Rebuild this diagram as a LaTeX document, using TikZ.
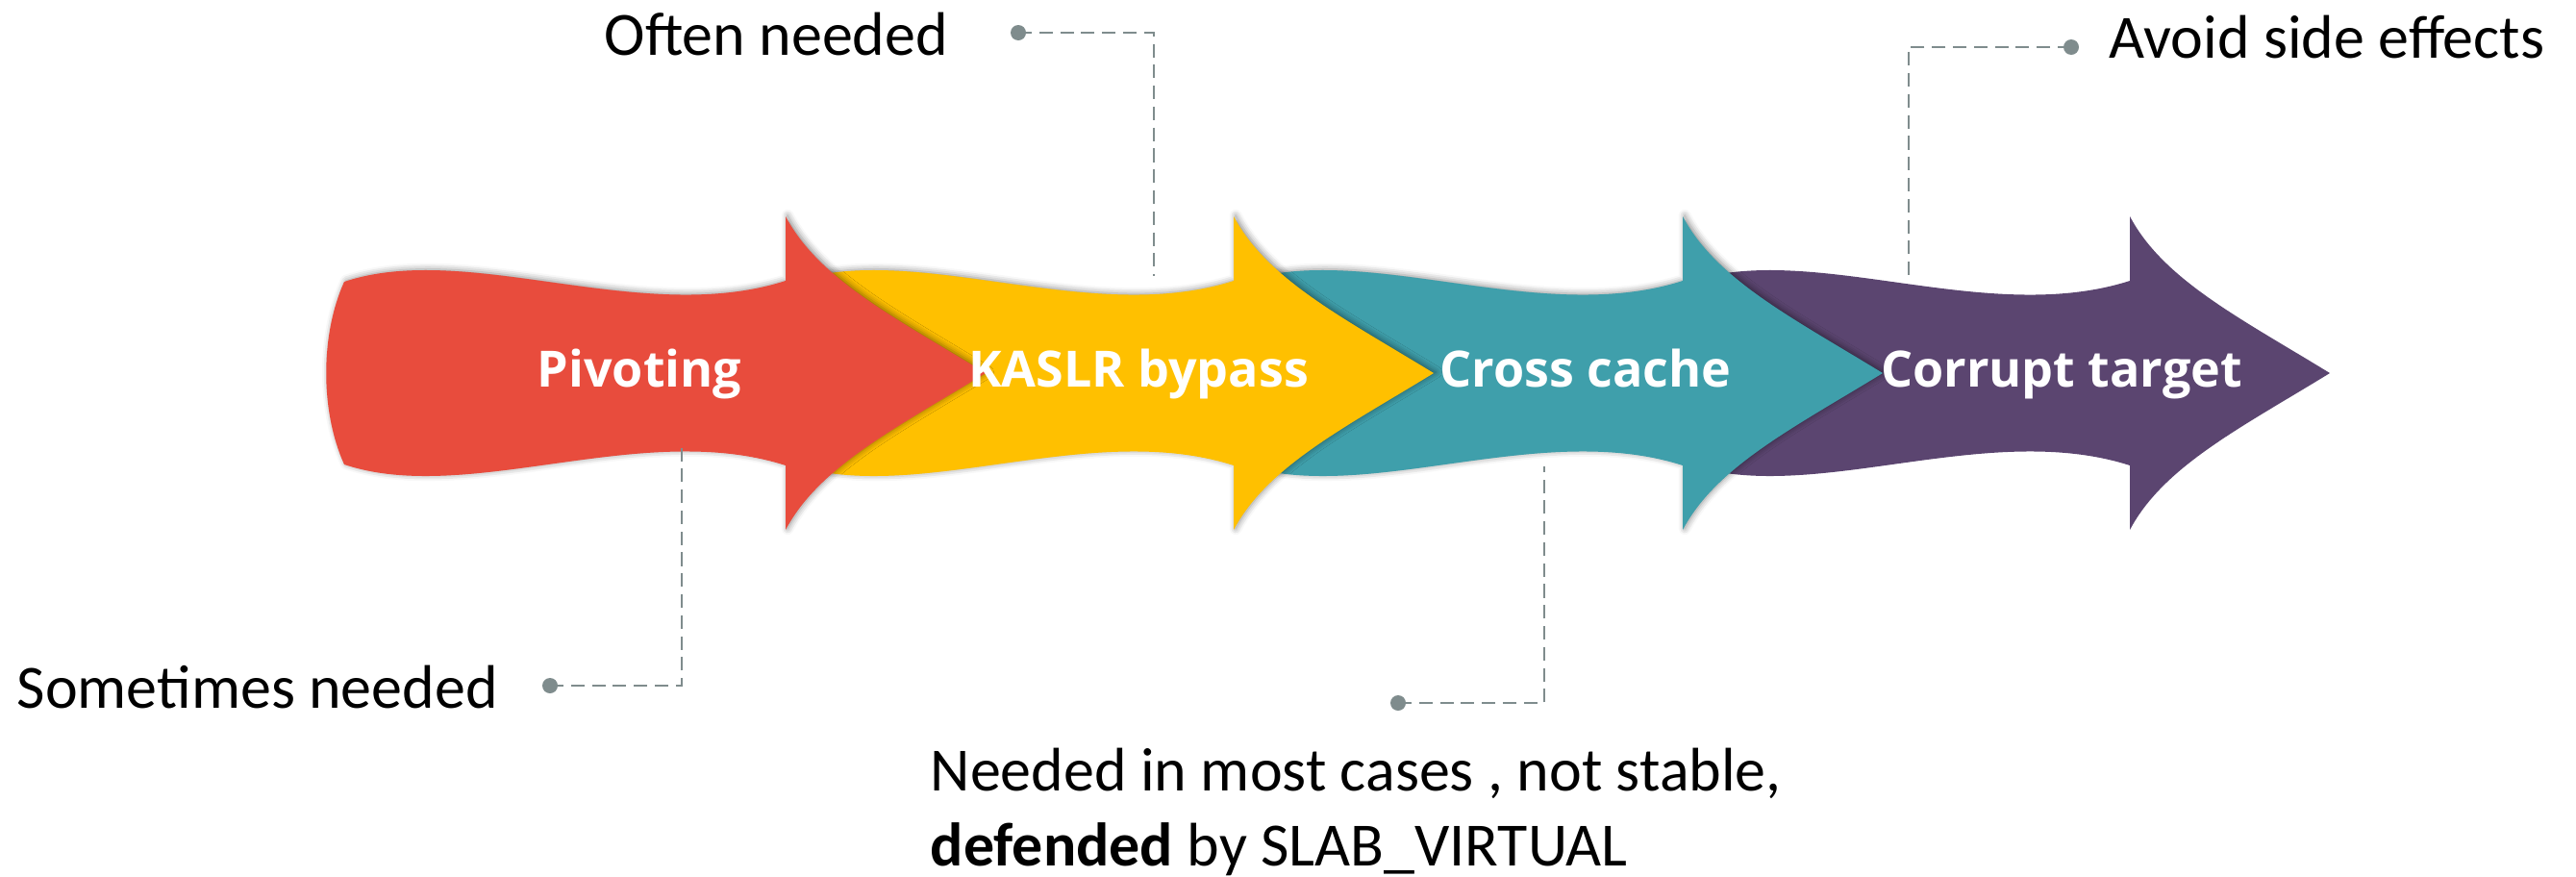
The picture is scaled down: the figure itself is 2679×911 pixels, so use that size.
\documentclass[tikz,border=0pt]{standalone}
\usepackage{fontspec}
\setmainfont{Carlito}
\newfontfamily\stagefont{Open Sans}
\usetikzlibrary{shadows.blur}

\definecolor{pivotred}{HTML}{E84C3D}
\definecolor{kaslryellow}{HTML}{FFC000}
\definecolor{cacheteal}{HTML}{3F9FAB}
\definecolor{targetpurple}{HTML}{5B4570}
\definecolor{notegray}{HTML}{7F8C8D}

\tikzset{
  stagelabel/.style={text=white, font=\stagefont\bfseries\fontsize{14.8}{17}\selectfont,
    inner sep=0pt, anchor=base},
  notelabel/.style={text=black, font=\fontsize{18.2}{20.5}\selectfont,
    inner sep=0pt, anchor=base west},
  leader/.style={notegray, line width=0.57pt, dash pattern=on 4pt off 2.2pt},
  leaderdot/.style={fill=notegray},
  stageshadow/.style={blur shadow={shadow xshift=0.6pt, shadow yshift=0.3pt,
    shadow blur radius=1.8pt, shadow opacity=45}},
  noshadow/.style={},
}

% One wavy stage arrow; #1 = x of the head base, #2 = fill colour, #3 = extra style
\newcommand\stagearrow[3]{%
  \begin{scope}[shift={(#1,388)}]
    \fill[#2,#3] (-459,-95) .. controls (-330,-138) and (-150,-48) .. (0,-96)
      -- (0,-163) .. controls (35,-97) and (115,-57) .. (208,0)
      .. controls (115,57) and (35,97) .. (0,163)
      -- (0,96) .. controls (-150,48) and (-330,138) .. (-459,95)
      .. controls (-484,40) and (-484,-40) .. (-459,-95) -- cycle;
  \end{scope}}

\begin{document}
\begin{tikzpicture}[x=0.1mm,y=-0.1mm]
  \useasboundingbox (0,0) rectangle (2679,911);

  % arrows, drawn right to left so each head lies over the next body
  \stagearrow{2215}{targetpurple}{noshadow}
  \stagearrow{1750}{cacheteal}{stageshadow}
  \stagearrow{1283}{kaslryellow}{stageshadow}
  \stagearrow{817}{pivotred}{stageshadow}

  % stage names
  \node[stagelabel] (pivot)   at (665,402)  {Pivoting};
  \node[stagelabel] (kaslr)   at (1184,402) {KASLR bypass};
  \node[stagelabel] (cross)   at (1649,402) {Cross cache};
  \node[stagelabel] (corrupt) at (2144,402) {Corrupt target};

  % notes
  \node[notelabel] (often)     at (628,57)   {Often needed};
  \node[notelabel] (avoid)     at (2193,60)  {Avoid side effects};
  \node[notelabel] (sometimes) at (17,736)   {Sometimes needed};
  \node[notelabel] (needed)    at (967,822)  {Needed in most cases , not stable,};
  \node[notelabel] (defended)  at (967,900)  {\textbf{defended} by SLAB\_VIRTUAL};

  % leader points
  \coordinate (oftendot) at (1059,34);
  \coordinate (oftenbend) at (1200,34);
  \coordinate (oftenend) at (1200,287);

  \coordinate (avoiddot) at (2154,49);
  \coordinate (avoidbend) at (1985,49);
  \coordinate (avoidend) at (1985,291);

  \coordinate (sometimesdot) at (572,713);
  \coordinate (sometimesbend) at (709,713);
  \coordinate (sometimesend) at (709,463);

  \coordinate (neededdot) at (1454,731);
  \coordinate (neededbend) at (1606,731);
  \coordinate (neededend) at (1606,485);

  % leaders
  \draw[leader] (oftendot) -- (oftenbend) -- (oftenend);
  \draw[leader] (avoiddot) -- (avoidbend) -- (avoidend);
  \draw[leader] (sometimesdot) -- (sometimesbend) -- (sometimesend);
  \draw[leader] (neededdot) -- (neededbend) -- (neededend);

  \fill[leaderdot] (oftendot) circle (8);
  \fill[leaderdot] (avoiddot) circle (8);
  \fill[leaderdot] (sometimesdot) circle (8);
  \fill[leaderdot] (neededdot) circle (8);
\end{tikzpicture}
\end{document}
